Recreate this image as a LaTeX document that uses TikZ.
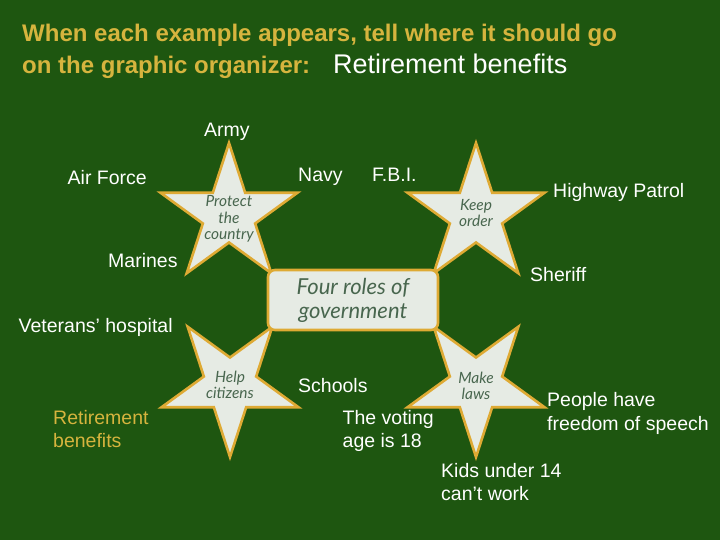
\documentclass[tikz,border=0pt]{standalone}
\usepackage{fontspec}
\setmainfont{Liberation Sans}
\newfontfamily\handfont{Lato}
\definecolor{bggreen}{RGB}{30,86,16}
\definecolor{titlegold}{RGB}{214,180,62}
\definecolor{stargold}{RGB}{222,170,52}
\definecolor{starfill}{RGB}{230,235,228}
\definecolor{handink}{RGB}{72,102,78}
\newcommand\govstar[3]{\draw[starsty, shift={(#1,#2)}, rotate=#3] (90:72) -- (126:27.5) -- (162:72) -- (198:27.5) -- (234:72) -- (270:27.5) -- (306:72) -- (342:27.5) -- (18:72) -- (54:27.5) -- cycle;}
\begin{document}
\begin{tikzpicture}[x=1pt,y=1pt,
  starsty/.style={draw=stargold, fill=starfill, line width=2.6pt},
  lbl/.style={anchor=base west, inner sep=0, text=white, font=\fontsize{19.5}{23.5}\selectfont, align=left},
  goldlbl/.style={lbl, text=titlegold},
  titlesty/.style={anchor=base west, inner sep=0, text=titlegold, font=\bfseries\fontsize{24}{28}\selectfont},
  startxt/.style={inner sep=0, text=handink, font=\handfont\itshape\fontsize{15.5}{16.5}\selectfont, align=center},
  govbox/.style={draw=stargold, line width=2.6pt, fill=starfill, rounded corners=7pt, minimum width=170pt, minimum height=60pt, text=handink, font=\handfont\itshape\fontsize{22}{24}\selectfont, align=center}
]
\fill[bggreen] (0,0) rectangle (720,540);
\useasboundingbox (0,0) rectangle (720,540);

% title
\node[titlesty] (title1) at (22,498) {When each example appears, tell where it should go};
\node[titlesty] (title2) at (22,466) {on the graphic organizer:};
\node[anchor=base west, inner sep=0, text=white, font=\fontsize{27}{31}\selectfont] (example) at (333,466) {Retirement benefits};

% stars
\coordinate (cs1) at (229,325);
\coordinate (cs2) at (476,325);
\coordinate (cs3) at (230,155);
\coordinate (cs4) at (476,155);
\govstar{229}{325}{0}
\govstar{476}{325}{0}
\govstar{230}{155}{180}
\govstar{476}{155}{180}

\node[govbox] (gov) at (353,240) {Four roles of\\government};

\node[startxt] (protect) at (229,321) {Protect\\the\\country};
\node[startxt] (keep) at (476,327) {Keep\\order};
\node[startxt] (help) at (230,155) {Help\\citizens};
\node[startxt] (make) at (476,154) {Make\\laws};

% examples
\node[lbl] (army) at (204,403.5) {Army};
\node[lbl] (airforce) at (67.5,355.5) {Air Force};
\node[lbl] (navy) at (298,358) {Navy};
\node[lbl] (fbi) at (372,358) {F.B.I.};
\node[lbl] (highway) at (553,342.5) {Highway Patrol};
\node[lbl] (marines) at (108,272.5) {Marines};
\node[lbl] (sheriff) at (530,258.5) {Sheriff};
\node[lbl] (veterans) at (18.5,207.5) {Veterans’ hospital};
\node[lbl] (schools) at (298,147) {Schools};
\node[lbl] (voting) at (342.5,92) {The voting\\age is 18};
\node[goldlbl] (retire) at (53,92) {Retirement\\benefits};
\node[lbl] (speech) at (547,109.5) {People have\\freedom of speech};
\node[lbl] (kids) at (441,39) {Kids under 14\\can’t work};
\end{tikzpicture}
\end{document}
